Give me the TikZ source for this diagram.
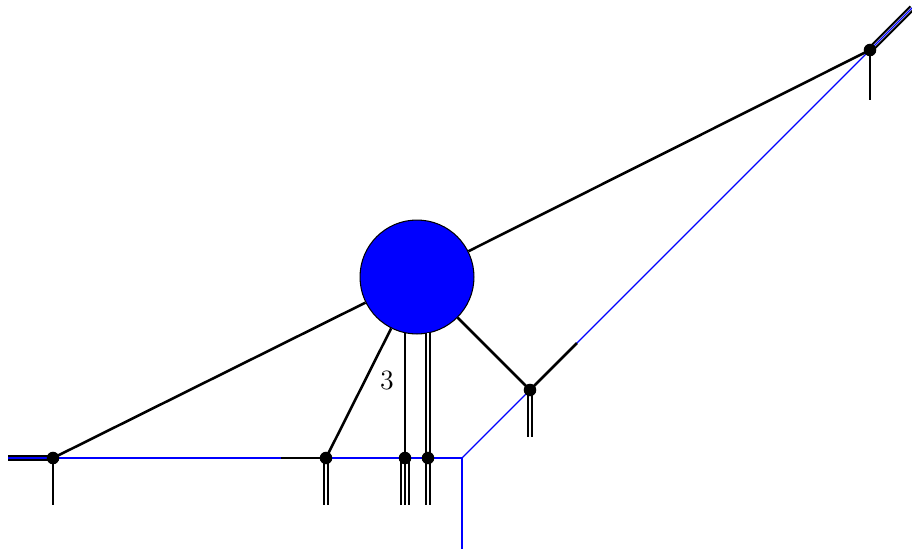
\documentclass[tikz,border=0pt]{standalone}
\usepackage{tikz}
\usetikzlibrary{calc}
\tikzset{
  ln/.style={line width=1.1pt},
  dln/.style={line width=0.9pt,double=white,double distance=1pt},
  tln/.style={line width=1pt,double=white,double distance=2.6pt},
  bl/.style={blue,line width=0.5pt},
  vtx/.style={circle,fill=black,inner sep=0pt,minimum size=5.4pt},
  blob/.style={circle,draw=black,line width=0.45pt,fill=blue,inner sep=0pt,minimum size=49pt},
}
\begin{document}
\begin{tikzpicture}[x=0.43pt,y=-0.43pt]
  \useasboundingbox (0,0) rectangle (912,553);
  \node[blob] (bb) at (417,277) {};
  \coordinate (a) at (53,458);
  \coordinate (b) at (326,458);
  \coordinate (c) at (405,458);
  \coordinate (d) at (428,458);
  \coordinate (e) at (530,390);
  \coordinate (f) at (870,50);
  \coordinate (k) at (462,458);
  % free ends
  \coordinate (al) at (8,458);   \coordinate (ad) at (53,505);
  \coordinate (bl) at (281,458); \coordinate (bd) at (326,505);
  \coordinate (cd) at (405,505); \coordinate (dd) at (428,505);
  \coordinate (ed) at (530,437); \coordinate (eu) at (577,343);
  \coordinate (fd) at (870,100); \coordinate (fu) at (912,8);
  \coordinate (kd) at (462,549);
  % double and triple legs
  \draw[dln] (a) -- (al);
  \draw[dln] (f) -- (fu);
  \draw[dln] (b) -- (bd);
  \draw[dln] (d) -- (dd);
  \draw[dln] (e) -- (ed);
  \draw[dln] (d) -- (d |- bb.-79);
  \draw[tln] (c) -- (cd);
  \draw[line width=1pt] (c) -- (cd);
  % blue path
  \draw[bl] (al) -- (k) -- (kd);
  \draw[bl] (k) -- (fu);
  % single lines
  \draw[ln] (a) -- (bb);
  \draw[ln] (f) -- (bb);
  \draw[ln] (b) -- (bb);
  \draw[ln] (e) -- (bb);
  \draw[ln] (c) -- (c |- bb.-102);
  \draw[ln] (a) -- (ad);
  \draw[ln] (b) -- (bl);
  \draw[ln] (e) -- (eu);
  \draw[ln] (f) -- (fd);
  \foreach \v in {a,b,c,d,e,f} \node[vtx] at (\v) {};
  \node[font=\large] (lbl) at (387,381) {3};
\end{tikzpicture}
\end{document}
